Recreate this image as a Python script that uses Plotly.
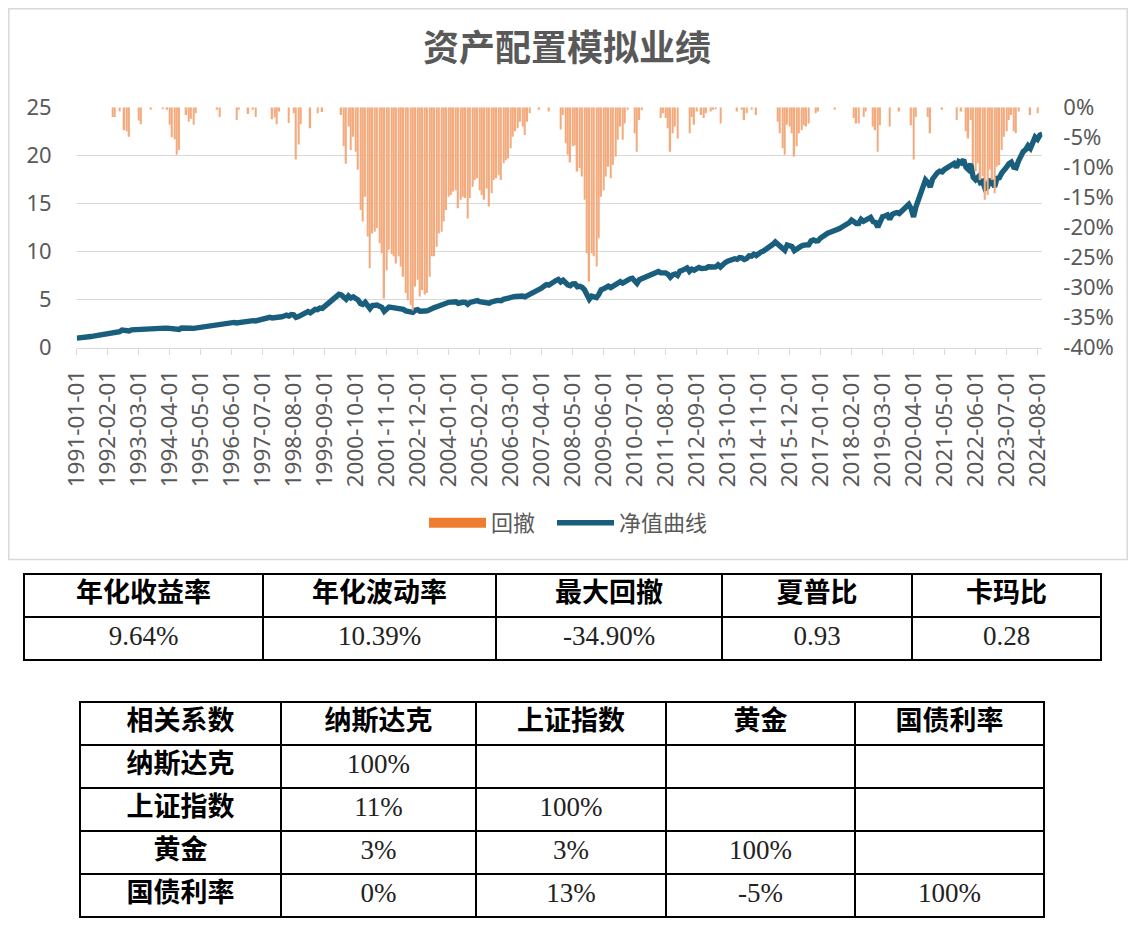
import plotly.graph_objects as go
import pandas as pd

# page body has an 8px margin, so the figure is placed at (8, 8)
OFF = 8
W, H = 1120, 932


def px(v):
    return (v - OFF) / W


def py(v):
    return 1 - (v - OFF) / H


# ---------------- data ----------------
start_month = "1991-01-01"
end_month = "2024-10-01"
months = pd.date_range(start_month, end_month, freq="MS").strftime("%Y-%m-%d").tolist()

# 净值曲线 (monthly NAV)
nav_1990s = [
    1.00, 1.05, 1.08, 1.10, 1.12, 1.14, 1.17, 1.20, 1.24, 1.28, 1.33, 1.38,
    1.42, 1.47, 1.55, 1.53, 1.53, 1.68, 1.67, 1.84, 1.77, 1.77, 1.75, 1.86,
    1.88, 1.93, 1.89, 1.88, 1.94, 1.96, 1.98, 1.97, 1.99, 2.00, 2.01, 2.02,
    2.015, 2.04, 2.03, 1.98, 1.94, 1.93, 1.88, 1.90, 2.05, 2.07, 2.04, 2.02,
    2.03, 2.01, 2.05, 2.09, 2.12, 2.16, 2.19, 2.23, 2.28, 2.32, 2.36, 2.35,
    2.32, 2.40, 2.44, 2.48, 2.53, 2.58, 2.63, 2.57, 2.62, 2.68, 2.73, 2.78,
    2.75, 2.82, 2.81, 2.78, 2.86, 2.92, 2.98, 3.04, 3.10, 3.16, 3.10, 3.11,
    3.07, 3.14, 3.22, 3.30, 3.38, 3.29, 3.45, 3.42, 3.15, 3.24, 3.35, 3.56,
    3.62, 3.75, 3.62, 3.85, 3.99, 3.95, 4.12, 4.09, 4.30, 4.45, 4.62, 4.80,
]
nav_2000s = [
    5.00, 5.25, 5.55, 5.48, 5.19, 5.03, 5.37, 5.16, 5.28, 5.14, 4.97, 4.60,
    4.50, 4.72, 4.36, 4.06, 4.38, 4.40, 4.43, 4.30, 4.20, 3.79, 4.05, 4.23,
    4.20, 4.17, 4.11, 4.17, 4.08, 3.98, 3.83, 3.77, 3.72, 3.67, 3.90, 3.96,
    3.80, 3.86, 3.82, 3.83, 3.98, 4.17, 4.17, 4.26, 4.38, 4.40, 4.50, 4.60,
    4.72, 4.74, 4.77, 4.78, 4.62, 4.70, 4.72, 4.71, 4.52, 4.71, 4.82, 4.88,
    4.90, 4.78, 4.74, 4.70, 4.80, 4.63, 4.76, 4.88, 4.90, 4.92, 4.88, 5.03,
    5.06, 5.08, 5.17, 5.28, 5.33, 5.36, 5.42, 5.37, 5.29, 5.42, 5.49, 5.70,
    5.85, 6.00, 5.98, 6.20, 6.40, 6.55, 6.50, 6.70, 6.85, 6.98, 7.10, 6.84,
    7.01, 6.67, 6.54, 6.45, 6.64, 6.65, 6.34, 6.38, 6.28, 6.01, 5.37, 5.04,
    5.37, 5.34, 5.22, 5.55, 6.04, 6.12, 6.28, 6.40, 6.26, 6.42, 6.52, 6.72,
]
nav_2010s = [
    6.87, 6.72, 6.91, 7.07, 7.15, 7.22, 6.91, 6.69, 7.07, 7.18, 7.30, 7.45,
    7.58, 7.70, 7.78, 7.85, 7.92, 7.78, 7.84, 7.78, 7.64, 7.33, 7.58, 7.67,
    7.51, 7.95, 8.05, 8.20, 8.30, 7.94, 8.17, 8.06, 8.24, 8.35, 8.24, 8.20,
    8.27, 8.42, 8.36, 8.39, 8.40, 8.62, 8.39, 8.70, 8.85, 9.00, 9.10, 9.20,
    9.25, 9.19, 9.38, 9.34, 9.18, 9.28, 9.55, 9.51, 9.72, 9.59, 9.85, 9.95,
    10.05, 10.20, 10.40, 10.55, 10.75, 11.00, 10.74, 10.53, 10.25, 10.13, 10.68, 10.65,
    10.53, 10.10, 10.29, 10.53, 10.58, 10.67, 10.65, 10.70, 11.10, 11.20, 11.09, 11.12,
    11.40, 11.60, 11.75, 11.90, 12.00, 12.10, 12.05, 12.25, 12.40, 12.55, 12.65, 12.80,
    13.00, 13.28, 13.04, 12.92, 12.92, 13.35, 13.14, 13.26, 13.45, 13.55, 13.12, 13.04,
    12.55, 13.14, 13.62, 13.70, 13.80, 13.36, 13.85, 13.98, 14.05, 13.95, 14.15, 14.40,
]
nav_2020s = [
    14.67, 14.90, 14.45, 13.60, 14.66, 15.36, 15.95, 16.57, 17.45, 17.17, 16.70, 17.55,
    17.90, 18.20, 18.35, 18.28, 18.55, 18.70, 18.85, 19.00, 19.15, 18.75, 19.35, 19.21,
    19.55, 18.77, 18.53, 19.14, 17.73, 17.46, 17.73, 17.18, 17.30, 16.54, 16.70, 17.52,
    17.18, 16.75, 17.61, 17.67, 18.16, 18.59, 18.77, 19.14, 19.30, 18.77, 18.71, 19.41,
    20.04, 20.40, 20.60, 21.00, 20.73, 21.40, 21.90, 21.68, 22.10, 22.22,
]

# 回撤 (monthly drawdown, %)
dd_1990s = [
    0, 0, 0, 0, 0, 0, 0, 0, 0, 0, 0, 0,
    0, 0, 0, -1.6, -1.6, 0, -0.7, 0, -3.8, -4.0, -4.9, 0,
    0, 0, -2.2, -2.8, 0, 0, 0, -0.4, 0, 0, 0, 0,
    -0.2, 0, -0.4, -2.9, -5.0, -5.3, -7.9, -7.1, 0, 0, -1.3, -2.4,
    -1.9, -2.9, -1.0, 0, 0, 0, 0, 0, 0, 0, 0, -0.4,
    -1.6, 0, 0, 0, 0, 0, 0, -2.1, -0.4, 0, 0, 0,
    -1.1, 0, -0.4, -1.6, 0, 0, 0, 0, 0, 0, -2.0, -1.7,
    -2.8, -0.7, 0, 0, 0, -2.6, 0, -1.0, -8.7, -6.2, -2.8, 0,
    0, 0, -3.5, 0, 0, -1.0, 0, -0.8, 0, 0, 0, 0,
]
dd_2000s = [
    0, 0, 0, -1.3, -6.5, -9.4, -3.2, -7.1, -4.9, -7.4, -10.4, -17.1,
    -19.0, -14.9, -21.5, -26.8, -21.0, -20.7, -20.1, -22.6, -24.3, -31.8, -27.1, -23.7,
    -24.4, -24.8, -26.0, -24.8, -26.5, -28.2, -30.9, -32.1, -32.9, -33.8, -29.8, -28.7,
    -31.5, -30.4, -31.2, -30.9, -28.2, -24.8, -24.8, -23.2, -21.0, -20.7, -19.0, -17.1,
    -14.9, -14.6, -14.0, -13.8, -16.8, -15.4, -14.9, -15.1, -18.5, -15.1, -13.2, -12.1,
    -11.8, -13.8, -14.6, -15.4, -13.5, -16.5, -14.3, -12.1, -11.8, -11.3, -12.1, -9.3,
    -8.8, -8.5, -6.8, -4.9, -4.0, -3.5, -2.4, -3.2, -4.6, -2.4, -1.0, 0,
    0, 0, -0.4, 0, 0, 0, -0.7, 0, 0, 0, 0, -3.7,
    -1.3, -6.0, -7.9, -9.2, -6.5, -6.3, -10.7, -10.1, -11.5, -15.4, -24.3, -29.0,
    -24.3, -24.8, -26.5, -21.8, -14.9, -13.8, -11.5, -9.9, -11.8, -9.6, -8.2, -5.4,
]
dd_2010s = [
    -3.2, -5.4, -2.7, -0.4, 0, 0, -4.3, -7.4, -2.1, -0.5, 0, 0,
    0, 0, 0, 0, 0, -1.8, -1.0, -1.8, -3.5, -7.4, -4.3, -3.2,
    -5.2, 0, 0, 0, 0, -4.3, -1.6, -2.9, -0.7, 0, -1.3, -1.8,
    -1.0, 0, -0.7, -0.4, -0.3, 0, -2.7, 0, 0, 0, 0, 0,
    0, -0.7, 0, -0.4, -2.1, -1.0, 0, -0.4, 0, -1.3, 0, 0,
    0, 0, 0, 0, 0, 0, -2.4, -4.3, -6.8, -7.9, -2.9, -3.2,
    -4.3, -8.2, -6.5, -4.3, -3.8, -3.0, -3.2, -2.7, 0, 0, -1.0, -0.7,
    0, 0, 0, 0, 0, 0, -0.4, 0, 0, 0, 0, 0,
    0, 0, -1.8, -2.7, -2.7, 0, -1.6, -0.7, 0, 0, -3.2, -3.8,
    -7.4, -3.0, 0, 0, 0, -3.2, 0, 0, 0, -0.7, 0, 0,
]
dd_2020s = [
    0, 0, -3.0, -8.7, -1.6, 0, 0, 0, 0, -1.6, -4.3, 0,
    0, 0, 0, -0.4, 0, 0, 0, 0, 0, -2.1, 0, -0.7,
    0, -4.0, -5.2, -2.1, -9.3, -10.7, -9.3, -12.1, -11.5, -15.4, -14.6, -10.4,
    -12.1, -14.3, -9.9, -9.6, -7.1, -4.9, -4.0, -2.1, -1.3, -4.0, -4.3, -0.7,
    0, 0, 0, 0, -1.3, 0, 0, -1.0, 0, 0,
]

nav = nav_1990s + nav_2000s + nav_2010s + nav_2020s
drawdown = dd_1990s + dd_2000s + dd_2010s + dd_2020s

x_tick_labels = months[::13]
left_ticks = [0, 5, 10, 15, 20, 25]
right_tickvals = [0, -5, -10, -15, -20, -25, -30, -35, -40]
right_ticktext = ["0%", "-5%", "-10%", "-15%", "-20%", "-25%", "-30%", "-35%", "-40%"]

# table 1
stat_headers = ["年化收益率", "年化波动率", "最大回撤", "夏普比", "卡玛比"]
stat_values = ["9.64%", "10.39%", "-34.90%", "0.93", "0.28"]

# table 2
corr_headers = ["相关系数", "纳斯达克", "上证指数", "黄金", "国债利率"]
corr_rows = ["纳斯达克", "上证指数", "黄金", "国债利率"]
corr_nasdaq = ["100%", "11%", "3%", "0%"]
corr_shanghai = ["", "100%", "3%", "13%"]
corr_gold = ["", "", "100%", "-5%"]
corr_bond = ["", "", "", "100%"]

# ---------------- styles ----------------
GRAY_TXT = "#595959"
GRID = "#D9D9D9"
ORANGE = "#ED7D31"
BAR_FILL = "#F3AA7C"
NAVY = "#1A5E7E"
CJK = "Noto Sans CJK SC"
SERIF = "Liberation Serif"

fig = go.Figure()

fig.add_trace(go.Bar(
    x=months, y=drawdown, yaxis="y2", name="回撤",
    marker=dict(color=BAR_FILL, line=dict(width=0)),
    showlegend=False, legendgroup="dd", hoverinfo="x+y",
))
fig.add_trace(go.Scatter(
    x=[None], y=[None], mode="lines", name="回撤", legendgroup="dd",
    line=dict(color=ORANGE, width=11), legend="legend",
))
fig.add_trace(go.Scatter(
    x=months, y=nav, mode="lines", name="净值曲线",
    line=dict(color=NAVY, width=5.4), legend="legend2",
))

fig.add_trace(go.Table(
    domain=dict(x=[px(24), px(1101)], y=[py(661), py(574)]),
    columnwidth=[239, 233, 226, 190, 189],
    header=dict(
        values=stat_headers, height=43, align="center",
        fill_color="white", line=dict(color="black", width=2),
        font=dict(family=CJK, size=27, color="black", weight="bold"),
    ),
    cells=dict(
        values=[[v] for v in stat_values], height=43, align="center",
        fill_color="white", line=dict(color="black", width=2),
        font=dict(family=SERIF, size=27, color="#222222"),
    ),
))

fig.add_trace(go.Table(
    domain=dict(x=[px(80), px(1044)], y=[py(918), py(702)]),
    columnwidth=[201, 195, 190, 189, 189],
    header=dict(
        values=corr_headers, height=43, align="center",
        fill_color="white", line=dict(color="black", width=2),
        font=dict(family=CJK, size=27, color="black", weight="bold"),
    ),
    cells=dict(
        values=[corr_rows, corr_nasdaq, corr_shanghai, corr_gold, corr_bond],
        height=43, align="center",
        fill_color="white", line=dict(color="black", width=2),
        font=dict(
            family=[CJK, SERIF, SERIF, SERIF, SERIF],
            size=[27, 27, 27, 27, 27],
            color=["black", "#222222", "#222222", "#222222", "#222222"],
            weight=["bold", "normal", "normal", "normal", "normal"],
        ),
    ),
))

legend_style = dict(
    orientation="h", xanchor="left", y=py(523), yanchor="middle",
    font=dict(family=CJK, size=22, color=GRAY_TXT),
    itemwidth=57, bgcolor="rgba(0,0,0,0)",
)

fig.update_layout(
    width=W, height=H,
    margin=dict(l=0, r=0, t=0, b=0),
    paper_bgcolor="white", plot_bgcolor="white",
    font=dict(family=CJK, color=GRAY_TXT),
    bargap=0.4,
    title=dict(
        text="资产配置模拟业绩", x=px(567), xanchor="center",
        y=py(48), yanchor="middle",
        font=dict(family=CJK, size=36, color=GRAY_TXT, weight="bold"),
    ),
    legend=dict(x=px(424), **legend_style),
    legend2=dict(x=px(552), **legend_style),
    xaxis=dict(
        type="category", domain=[px(76.7), px(1042.3)], range=[0, len(months) - 1],
        tickmode="array", tickvals=x_tick_labels, ticktext=x_tick_labels,
        tickangle=-90, tickfont=dict(family="Noto Sans", size=22.5, color=GRAY_TXT),
        showline=True, linecolor=GRID, linewidth=1.3,
        ticks="outside", ticklen=6, tickcolor=GRID, tickwidth=1.3,
        showgrid=False, zeroline=False, automargin=False, anchor="y",
        ticklabelstandoff=6,
    ),
    yaxis=dict(
        domain=[py(347.7), py(107.3)], range=[0, 25],
        tickmode="array", tickvals=left_ticks,
        tickfont=dict(family="Noto Sans", size=22, color=GRAY_TXT),
        showgrid=True, gridcolor=GRID, gridwidth=1.3,
        zeroline=False, showline=False, ticks="", automargin=False,
        ticklabelstandoff=24,
    ),
    yaxis2=dict(
        overlaying="y", side="right", anchor="x", range=[-40, 0],
        tickmode="array", tickvals=right_tickvals, ticktext=right_ticktext,
        tickfont=dict(family="Noto Sans", size=22, color=GRAY_TXT),
        showgrid=False, zeroline=False, showline=False, ticks="",
        automargin=False, ticklabelstandoff=20,
    ),
    shapes=[dict(
        type="rect", xref="paper", yref="paper",
        x0=px(8.8), x1=px(1127.2), y0=py(559.5), y1=py(8.8),
        line=dict(color=GRID, width=1.5), fillcolor="rgba(0,0,0,0)", layer="below",
    )],
)

fig.write_html("out.html")
